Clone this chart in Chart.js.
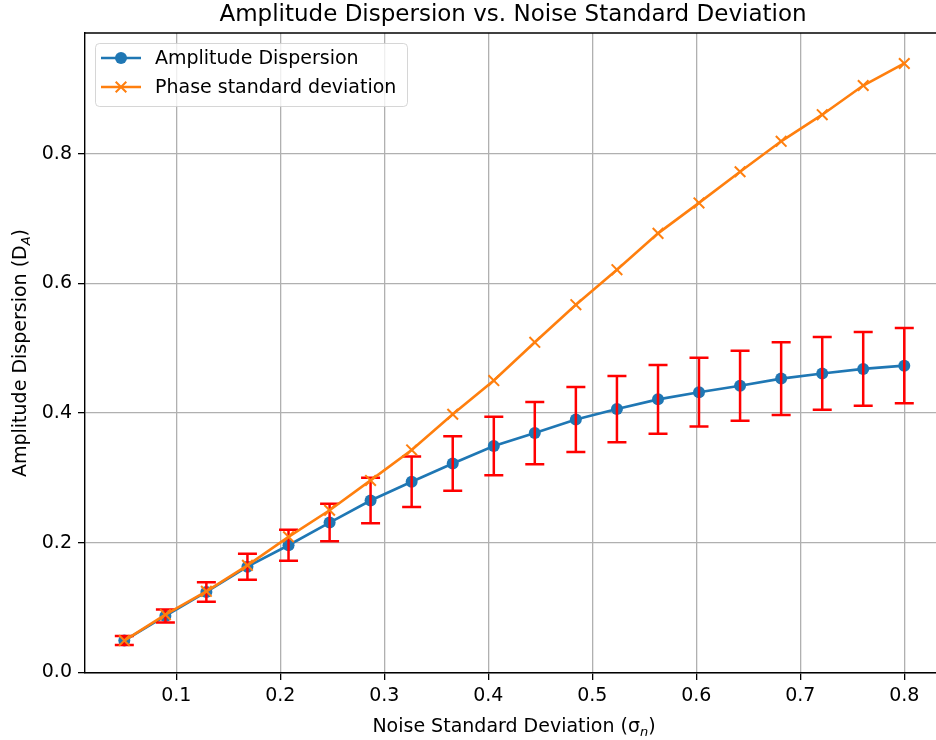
<!DOCTYPE html>
<html>
<head>
<meta charset="utf-8">
<title>Amplitude Dispersion vs. Noise Standard Deviation</title>
<script src="https://cdn.jsdelivr.net/npm/chart.js@4.4.0/dist/chart.umd.min.js"></script>
<style>
html, body { margin: 0; padding: 0; background: #fff; overflow: hidden; }
#wrap { width: 936px; height: 740px; position: relative; }
</style>
</head>
<body>
<div id="wrap"><canvas id="myChart"></canvas></div>
<script>
// Desviación estándar del ruido (eje x)
var sigmaN = [0.05, 0.0895, 0.1289, 0.1684, 0.2079, 0.2474, 0.2868, 0.3263, 0.3658, 0.4053,
              0.4447, 0.4842, 0.5237, 0.5632, 0.6026, 0.6421, 0.6816, 0.7211, 0.7605, 0.8];
// Dispersión de amplitud y su barra de error
var ampDisp = [0.049, 0.087, 0.124, 0.163, 0.196, 0.231, 0.265, 0.294, 0.322, 0.349,
               0.369, 0.390, 0.406, 0.421, 0.432, 0.442, 0.453, 0.461, 0.468, 0.473];
var ampErr = [0.007, 0.010, 0.015, 0.020, 0.024, 0.029, 0.035, 0.039, 0.042, 0.045,
              0.048, 0.050, 0.051, 0.053, 0.053, 0.054, 0.056, 0.056, 0.057, 0.058];
// Desviación estándar de la fase
var phaseStd = [0.049, 0.089, 0.125, 0.165, 0.209, 0.250, 0.296, 0.343, 0.398, 0.450,
                0.509, 0.567, 0.621, 0.677, 0.724, 0.772, 0.819, 0.860, 0.905, 0.939];
// Marcas de los ejes
var xTicks = [0.1, 0.2, 0.3, 0.4, 0.5, 0.6, 0.7, 0.8];
var yTicks = [0.0, 0.2, 0.4, 0.6, 0.8];

var FONT = "'DejaVu Sans', sans-serif";
var BLUE = '#1f77b4';
var ORANGE = '#ff7f0e';

// Texto con subíndice: partes [{t, sub}]
function drawParts(ctx, parts, x, y, size) {
    var total = 0;
    parts.forEach(function(p) {
        ctx.font = (p.sub ? 'italic ' + Math.round(size * 0.7) : size) + 'px ' + FONT;
        p.w = ctx.measureText(p.t).width;
        total += p.w;
    });
    var cx = x - total / 2;
    ctx.textAlign = 'left';
    ctx.textBaseline = 'alphabetic';
    parts.forEach(function(p) {
        ctx.font = (p.sub ? 'italic ' + Math.round(size * 0.7) : size) + 'px ' + FONT;
        ctx.fillText(p.t, cx, p.sub ? y + size * 0.22 : y);
        cx += p.w;
    });
}

var decor = {
    id: 'decor',
    beforeDraw: function(chart) {
        var ctx = chart.ctx;
        ctx.save();
        ctx.fillStyle = '#fff';
        ctx.fillRect(0, 0, chart.width, chart.height);
        ctx.restore();
    },
    afterDatasetDraw: function(chart, args) {
        if (args.index !== 0) return;
        // Barras de error en rojo
        var ctx = chart.ctx, xs = chart.scales.x, ys = chart.scales.y;
        var a = chart.chartArea;
        ctx.save();
        ctx.beginPath();
        ctx.rect(a.left, a.top, a.right - a.left, a.bottom - a.top);
        ctx.clip();
        ctx.strokeStyle = '#ff0000';
        ctx.lineWidth = 2.5;
        for (var i = 0; i < sigmaN.length; i++) {
            var px = xs.getPixelForValue(sigmaN[i]);
            var top = ys.getPixelForValue(ampDisp[i] + ampErr[i]);
            var bot = ys.getPixelForValue(ampDisp[i] - ampErr[i]);
            ctx.beginPath();
            ctx.moveTo(px, top); ctx.lineTo(px, bot);
            ctx.moveTo(px - 9.5, top); ctx.lineTo(px + 9.5, top);
            ctx.moveTo(px - 9.5, bot); ctx.lineTo(px + 9.5, bot);
            ctx.stroke();
        }
        ctx.restore();
    },
    afterDraw: function(chart) {
        var ctx = chart.ctx, a = chart.chartArea;
        ctx.save();
        // Borde superior del área
        ctx.strokeStyle = '#000';
        ctx.lineWidth = 1.4;
        ctx.beginPath();
        ctx.moveTo(a.left, a.top);
        ctx.lineTo(chart.width, a.top);
        ctx.stroke();

        ctx.fillStyle = '#000';
        // Título
        ctx.font = '23px ' + FONT;
        ctx.textAlign = 'center';
        ctx.textBaseline = 'alphabetic';
        ctx.fillText('Amplitude Dispersion vs. Noise Standard Deviation', 513, 21);

        // Etiquetas de los ejes
        drawParts(ctx, [{t: 'Noise Standard Deviation (σ'}, {t: 'n', sub: true}, {t: ')'}], 514, 732, 19);
        ctx.save();
        ctx.translate(26, 353);
        ctx.rotate(-Math.PI / 2);
        drawParts(ctx, [{t: 'Amplitude Dispersion (D'}, {t: 'A', sub: true}, {t: ')'}], 0, 0, 19);
        ctx.restore();

        // Leyenda
        var lx = 95.5, ly = 43.5, lw = 312, lh = 63, r = 4;
        ctx.beginPath();
        ctx.moveTo(lx + r, ly);
        ctx.arcTo(lx + lw, ly, lx + lw, ly + lh, r);
        ctx.arcTo(lx + lw, ly + lh, lx, ly + lh, r);
        ctx.arcTo(lx, ly + lh, lx, ly, r);
        ctx.arcTo(lx, ly, lx + lw, ly, r);
        ctx.closePath();
        ctx.fillStyle = 'rgba(255,255,255,0.8)';
        ctx.fill();
        ctx.strokeStyle = 'rgba(204,204,204,0.8)';
        ctx.lineWidth = 1;
        ctx.stroke();

        var rows = [58, 87];
        chart.data.datasets.forEach(function(ds, i) {
            var y = rows[i];
            ctx.strokeStyle = ds.borderColor;
            ctx.fillStyle = ds.backgroundColor;
            ctx.lineWidth = ds.borderWidth;
            ctx.beginPath();
            ctx.moveTo(101, y); ctx.lineTo(141, y);
            ctx.stroke();
            ctx.lineWidth = ds.pointBorderWidth || 1;
            Chart.helpers.drawPoint(ctx, {pointStyle: ds.pointStyle, radius: ds.pointRadius, rotation: 0, borderWidth: ds.pointBorderWidth}, 121, y);
            ctx.fillStyle = '#000';
            ctx.font = '19px ' + FONT;
            ctx.textAlign = 'left';
            ctx.textBaseline = 'middle';
            ctx.fillText(ds.label, 155, y + 1);
        });
        ctx.restore();
    }
};

var ctx = document.getElementById('myChart').getContext('2d');
var myChart = new Chart(ctx, {
    type: 'line',
    data: {
        datasets: [
            {
                label: 'Amplitude Dispersion',
                data: sigmaN.map(function(x, i) { return {x: x, y: ampDisp[i]}; }),
                borderColor: BLUE,
                backgroundColor: BLUE,
                borderWidth: 2.6,
                pointStyle: 'circle',
                pointRadius: 6,
                pointBorderWidth: 0,
                tension: 0,
                order: 1
            },
            {
                label: 'Phase standard deviation',
                data: sigmaN.map(function(x, i) { return {x: x, y: phaseStd[i]}; }),
                borderColor: ORANGE,
                backgroundColor: ORANGE,
                borderWidth: 2.6,
                pointStyle: 'crossRot',
                pointRadius: 7.5,
                pointBorderWidth: 2,
                tension: 0,
                order: 0
            }
        ]
    },
    options: {
        responsive: true,
        maintainAspectRatio: false,
        animation: false,
        devicePixelRatio: 1,
        layout: { autoPadding: false, padding: { top: 33, left: 0, right: 0, bottom: 0 } },
        plugins: {
            legend: { display: false },
            title: { display: false },
            tooltip: { enabled: false }
        },
        scales: {
            x: {
                type: 'linear',
                position: 'bottom',
                min: 0.0122,
                max: 0.8305,
                afterBuildTicks: function(scale) {
                    scale.ticks = xTicks.map(function(v) { return {value: v}; });
                },
                afterFit: function(scale) { scale.height = 67; },
                ticks: {
                    callback: function(v) { return v.toFixed(1); },
                    font: { family: FONT, size: 19 },
                    color: '#000',
                    padding: 5,
                    maxRotation: 0,
                    autoSkip: false
                },
                grid: { color: '#b0b0b0', lineWidth: 1.3, tickColor: '#000', tickLength: 7 },
                border: { color: '#000', width: 1.4 }
            },
            y: {
                type: 'linear',
                min: -0.001,
                max: 0.986,
                afterBuildTicks: function(scale) {
                    scale.ticks = yTicks.map(function(v) { return {value: v}; });
                },
                afterFit: function(scale) { scale.width = 85; },
                ticks: {
                    callback: function(v) { return v.toFixed(1); },
                    font: { family: FONT, size: 19 },
                    color: '#000',
                    padding: 6,
                    autoSkip: false
                },
                grid: { color: '#b0b0b0', lineWidth: 1.3, tickColor: '#000', tickLength: 7 },
                border: { color: '#000', width: 1.4 }
            }
        }
    },
    plugins: [decor]
});
</script>
</body>
</html>
